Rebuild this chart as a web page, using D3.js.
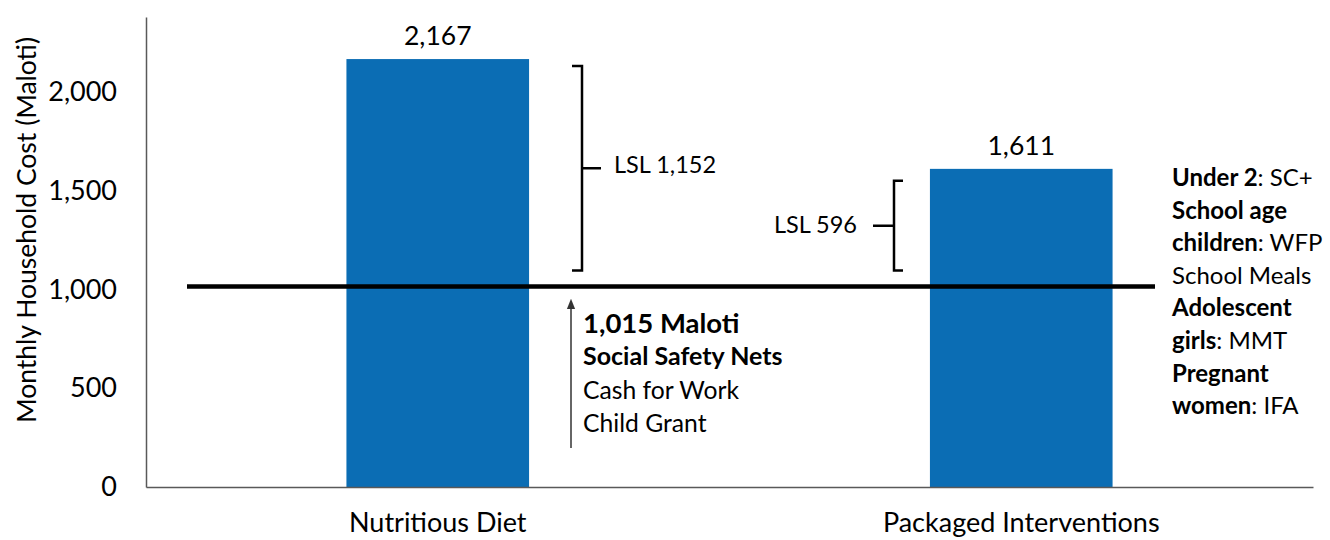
<!DOCTYPE html>
<html>
<head>
<meta charset="utf-8">
<script src="https://cdn.jsdelivr.net/npm/d3@7"></script>
<style>
  body { margin: 0; background: #fff; }
  svg text { font-family: Lato, "Open Sans", sans-serif; fill: #000; }
</style>
</head>
<body>
<div id="chart"></div>
<script>
var categories = ["Nutritious Diet", "Packaged Interventions"],
	costs = [2167, 1611],
	yTicks = [0, 500, 1000, 1500, 2000],
	safetyNet = 1015,
	gaps = ["LSL 1,152", "LSL 596"],
	netLines = ["1,015 Maloti", "Social Safety Nets", "Cash for Work", "Child Grant"],
	packageLines = [
		[["Under 2", true], [": SC+", false]],
		[["School age", true]],
		[["children", true], [": WFP", false]],
		[["School Meals", false]],
		[["Adolescent", true]],
		[["girls", true], [": MMT", false]],
		[["Pregnant", true]],
		[["women", true], [": IFA", false]]
	];

(function() {
	"use strict";

	var chartWidth = 1330,
		chartHeight = 540,
		x = d3.scaleBand().domain(categories).range([146, 1313])
			.paddingInner(0.687).paddingOuter(0.3435),
		y = d3.scaleLinear().domain([0, 2380]).range([487, 17]),
		barColor = "#0b6db4",
		axisColor = "#595959";

	var svg = d3.select("#chart").append("svg")
		.attr("width", chartWidth)
		.attr("height", chartHeight);

	// bars
	svg.selectAll(".bar")
		.data(costs)
		.enter().append("rect")
		.attr("class", "bar")
		.attr("x", function(d, i) { return x(categories[i]); })
		.attr("width", x.bandwidth())
		.attr("y", function(d) { return y(d); })
		.attr("height", function(d) { return y(0) - y(d); })
		.style("fill", barColor);

	// value labels
	svg.selectAll(".value")
		.data(costs)
		.enter().append("text")
		.attr("class", "value")
		.attr("x", function(d, i) { return x(categories[i]) + x.bandwidth() / 2; })
		.attr("y", function(d) { return y(d) - 14; })
		.attr("text-anchor", "middle")
		.style("font-size", "26.5px")
		.text(d3.format(","));

	// axes
	var yAxis = svg.append("g")
		.attr("transform", "translate(146,0)")
		.call(d3.axisLeft(y).tickValues(yTicks).tickFormat(d3.format(","))
			.tickSize(0).tickPadding(29));
	yAxis.select(".domain").attr("stroke", axisColor).attr("stroke-width", 1.5);
	yAxis.selectAll("text").style("font-size", "27px").style("font-family", "Lato, sans-serif").attr("fill", "#000");

	var xAxis = svg.append("g")
		.attr("transform", "translate(0," + y(0) + ")")
		.call(d3.axisBottom(x).tickSize(0).tickPadding(26));
	xAxis.select(".domain").attr("stroke", axisColor).attr("stroke-width", 1.5);
	xAxis.selectAll("text").style("font-size", "27px").style("font-family", "Lato, sans-serif").attr("fill", "#000");

	svg.append("text")
		.attr("transform", "translate(36," + 230 + ") rotate(-90)")
		.attr("text-anchor", "middle")
		.style("font-size", "26.5px")
		.text("Monthly Household Cost (Maloti)");

	// safety net line
	svg.append("line")
		.attr("x1", 187).attr("x2", 1155)
		.attr("y1", y(safetyNet)).attr("y2", y(safetyNet))
		.attr("stroke", "#000").attr("stroke-width", 4.5);

	// brackets
	var b1x = 582, b1top = y(costs[0]) + 7, b1bot = y(safetyNet) - 16, b1mid = (b1top + b1bot) / 2;
	svg.append("path")
		.attr("d", "M" + (b1x - 10) + "," + b1top + "H" + b1x + "V" + b1bot + "H" + (b1x - 10)
			+ "M" + b1x + "," + b1mid + "H" + (b1x + 19))
		.attr("fill", "none").attr("stroke", "#000").attr("stroke-width", 2.5);
	svg.append("text")
		.attr("x", b1x + 32).attr("y", b1mid + 5)
		.style("font-size", "23.5px")
		.text(gaps[0]);

	var b2x = 894, b2top = y(costs[1]) + 12, b2bot = y(safetyNet) - 16, b2mid = (b2top + b2bot) / 2;
	svg.append("path")
		.attr("d", "M" + (b2x + 9) + "," + b2top + "H" + b2x + "V" + b2bot + "H" + (b2x + 9)
			+ "M" + b2x + "," + b2mid + "H" + (b2x - 21))
		.attr("fill", "none").attr("stroke", "#000").attr("stroke-width", 2.5);
	svg.append("text")
		.attr("x", b2x - 37).attr("y", b2mid + 7)
		.attr("text-anchor", "end")
		.style("font-size", "23.5px")
		.text(gaps[1]);

	// arrow
	svg.append("defs").append("marker")
		.attr("id", "arrow")
		.attr("viewBox", "0 0 10 10")
		.attr("refX", 5).attr("refY", 5)
		.attr("markerWidth", 7).attr("markerHeight", 7)
		.attr("orient", "auto")
		.append("path").attr("d", "M0,1L10,5L0,9Z").attr("fill", "#333");
	svg.append("line")
		.attr("x1", 571).attr("x2", 571)
		.attr("y1", 448).attr("y2", 304)
		.attr("stroke", "#333").attr("stroke-width", 1.5)
		.attr("marker-end", "url(#arrow)");

	var netStyles = [["27.5px", "bold", 333], ["25px", "bold", 365], ["24.7px", "normal", 399], ["24.7px", "normal", 432]];
	svg.selectAll(".net")
		.data(netLines)
		.enter().append("text")
		.attr("class", "net")
		.attr("x", 583)
		.attr("y", function(d, i) { return netStyles[i][2]; })
		.style("font-size", function(d, i) { return netStyles[i][0]; })
		.style("font-weight", function(d, i) { return netStyles[i][1]; })
		.text(function(d) { return d; });

	// package notes
	var pkg = svg.selectAll(".pkg")
		.data(packageLines)
		.enter().append("text")
		.attr("class", "pkg")
		.attr("x", 1172)
		.attr("y", function(d, i) { return 186 + i * 32.6; })
		.style("font-size", "24px");
	pkg.selectAll("tspan")
		.data(function(d) { return d; })
		.enter().append("tspan")
		.style("font-weight", function(d) { return d[1] ? "bold" : "normal"; })
		.text(function(d) { return d[0]; });
})();
</script>
</body>
</html>
